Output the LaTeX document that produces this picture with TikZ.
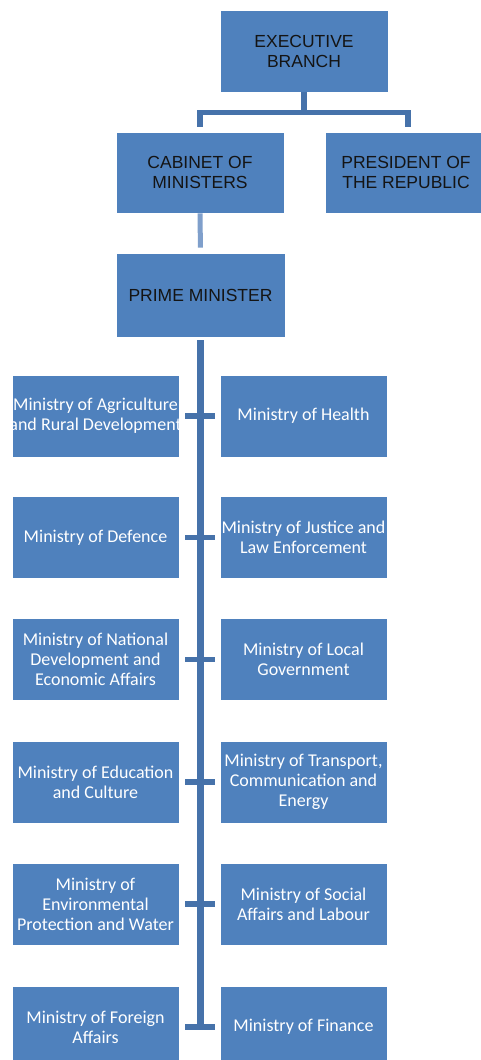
\documentclass[tikz,border=0pt]{standalone}
\usepackage{fontspec}
\setmainfont{Carlito}
\newfontfamily\arialf{Liberation Sans}
\definecolor{boxblue}{HTML}{4F81BD}
\definecolor{linkblue}{HTML}{4672AA}
\definecolor{lightlink}{HTML}{7F9FCB}
\definecolor{toptext}{HTML}{141414}
\newcommand{\fitline}[1]{\makebox[163bp][c]{#1}}
\begin{document}
\begin{tikzpicture}[x=1bp,y=-1bp,
  box/.style={draw=white, line width=0.8bp, fill=boxblue, minimum width=168bp, minimum height=82bp, inner sep=1bp, align=center},
  topbox/.style={box, font=\arialf\fontsize{17.5bp}{20bp}\selectfont, text=toptext},
  minbox/.style={box, minimum width=167bp, font=\fontsize{18bp}{20bp}\selectfont, text=white},
  conn/.style={draw=linkblue, line width=5.5bp},
  lightconn/.style={draw=lightlink, line width=5bp},
  trunk/.style={draw=linkblue, line width=7bp}]
\useasboundingbox (0,0) rectangle (481,1060);
\clip (0,0) rectangle (481,1060);
\fill[white] (0,0) rectangle (481,1060);
% top
\node[topbox] (exec) at (304,51) {EXECUTIVE\\BRANCH};
\node[topbox, minimum height=81bp] (cab) at (200,172.5) {CABINET OF\\MINISTERS};
\node[topbox, minimum height=81bp, minimum width=162bp] (pres) at (406,172.5) {PRESIDENT OF\\THE REPUBLIC};
\node[topbox, minimum width=169bp, minimum height=84bp] (pm) at (200.5,295) {PRIME MINISTER};
% ministries
\node[minbox] (L1) at (95.5,416) {\fitline{Ministry of Agriculture}\\\fitline{and Rural Development}};
\node[minbox] (R1) at (303.5,416) {Ministry of Health};
\node[minbox] (L2) at (95.5,537.5) {Ministry of Defence};
\node[minbox] (R2) at (303.5,537.5) {\fitline{Ministry of Justice and}\\Law Enforcement};
\node[minbox] (L3) at (95.5,659.5) {Ministry of National\\Development and\\Economic Affairs};
\node[minbox] (R3) at (303.5,659.5) {Ministry of Local\\Government};
\node[minbox] (L4) at (95.5,782) {Ministry of Education\\and Culture};
\node[minbox] (R4) at (303.5,782) {\fitline{Ministry of Transport,}\\Communication and\\Energy};
\node[minbox] (L5) at (95.5,904) {Ministry of\\Environmental\\\fitline{Protection and Water}};
\node[minbox] (R5) at (303.5,904) {Ministry of Social\\Affairs and Labour};
\node[minbox] (L6) at (95.5,1027) {Ministry of Foreign\\Affairs};
\node[minbox] (R6) at (303.5,1027) {Ministry of Finance};
% connectors
\draw[conn] (exec.south) -- ++(0,20) -| ([yshift=5bp]cab.north);
\draw[conn] (exec.south) -- ++(0,20) -| ([yshift=5bp,xshift=2bp]pres.north);
\draw[lightconn, shorten >=5bp] (cab.south) -- (pm.north);
\coordinate (tend) at (200,1030);
\draw[trunk, shorten <=3bp] (pm.south) -- (pm.south |- tend);
\foreach \i in {1,...,6}{
  \draw[conn, shorten <=6bp, shorten >=5bp] (L\i.east) -- (R\i.west);
}
\end{tikzpicture}
\end{document}
